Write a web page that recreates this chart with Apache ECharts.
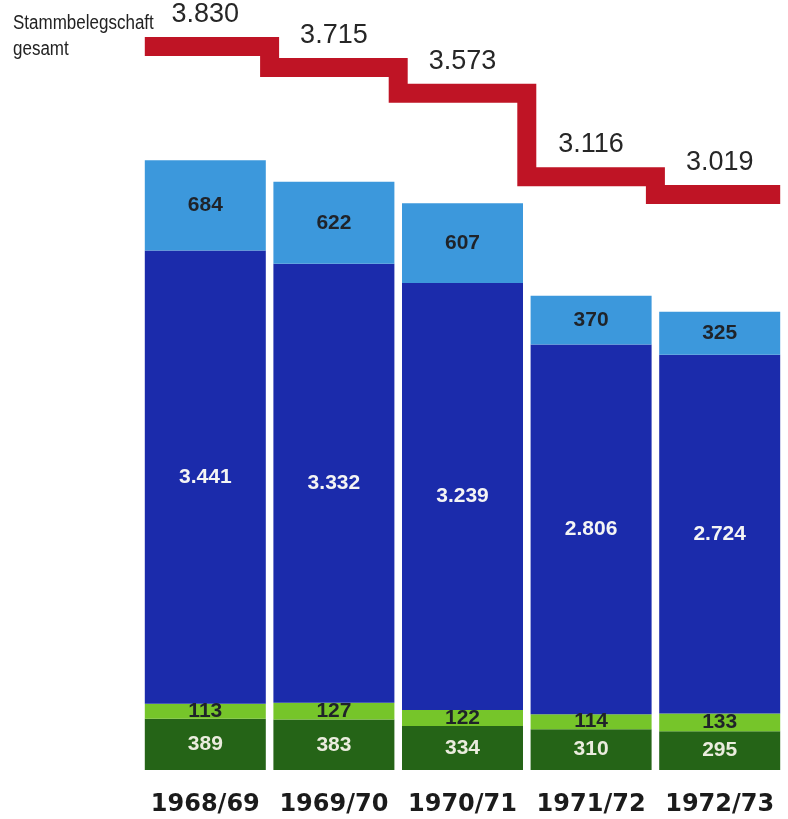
<!DOCTYPE html>
<html>
<head>
<meta charset="utf-8">
<script src="https://cdn.jsdelivr.net/npm/echarts@6/dist/echarts.min.js"></script>
<style>
  html, body { margin: 0; padding: 0; background: #ffffff; }
  #chart { width: 788px; height: 819px; }
</style>
</head>
<body>
<div id="chart"></div>
<script>
// Geschäftsjahre
const years = ['1968/69', '1969/70', '1970/71', '1971/72', '1972/73'];

// Segmente der Säulen (von unten nach oben)
const darkGreen  = [389, 383, 334, 310, 295];
const lightGreen = [113, 127, 122, 114, 133];
const blue       = [3441, 3332, 3239, 2806, 2724];
const lightBlue  = [684, 622, 607, 370, 325];

// Stammbelegschaft gesamt (rote Treppenlinie)
const totals = [3830, 3715, 3573, 3116, 3019];

const headline = ['Stammbelegschaft', 'gesamt'];

// deutsche Tausendertrennung: 3830 -> "3.830"
function fmt(v) {
  if (v < 1000) return String(v);
  return Math.floor(v / 1000) + '.' + String(v % 1000).padStart(3, '0');
}

const BAR_W = 121;
const RED = '#bf1425';

function segment(name, values, color, textColor) {
  return {
    name: name,
    type: 'bar',
    stack: 'belegschaft',
    barWidth: BAR_W,
    data: values,
    itemStyle: { color: color },
    label: {
      show: true,
      position: 'inside',
      formatter: p => fmt(p.value),
      color: textColor,
      fontFamily: 'Liberation Sans, Arial, sans-serif',
      fontWeight: 'bold',
      fontSize: 21
    },
    emphasis: { disabled: true }
  };
}

const chart = echarts.init(document.getElementById('chart'), null, { renderer: 'canvas' });

chart.setOption({
  backgroundColor: '#ffffff',
  animation: false,
  grid: { left: 141, right: 4, top: 40, bottom: 49 },
  xAxis: {
    type: 'category',
    data: years,
    axisLine: { show: false },
    axisTick: { show: false },
    axisLabel: {
      interval: 0,
      margin: 23,
      color: '#1b1b1b',
      fontFamily: 'DejaVu Sans, sans-serif',
      fontWeight: 'bold',
      fontSize: 24
    }
  },
  yAxis: [
    { type: 'value', min: 0, max: 5540, show: false, splitLine: { show: false } },
    { type: 'value', min: -130, max: 3865, show: false, splitLine: { show: false } }
  ],
  graphic: [{
    type: 'text',
    left: 13,
    top: 10,
    scaleX: 0.85,
    style: {
      text: headline.join('\n'),
      fill: '#222222',
      font: '20px "Liberation Sans", Arial, sans-serif',
      lineHeight: 26
    }
  }],
  series: [
    segment('dunkelgrün', darkGreen, '#256417', '#ebecde'),
    segment('hellgrün', lightGreen, '#76c52a', '#1f2329'),
    segment('blau', blue, '#1b2bab', '#f4f4f4'),
    segment('hellblau', lightBlue, '#3c98dc', '#1f2329'),
    {
      name: 'Stammbelegschaft gesamt',
      type: 'custom',
      xAxisIndex: 0,
      yAxisIndex: 1,
      z: 5,
      data: totals.map((v, i) => [i, v]),
      renderItem: function (params, api) {
        const i = params.dataIndex;
        const band = api.size([1, 0])[0];
        const p = api.coord([i, api.value(1)]);
        const children = [];
        if (i === 0) {
          // durchgehende Treppenlinie über alle Jahre
          const pts = [];
          const n = totals.length;
          for (let j = 0; j < n; j++) {
            const c = api.coord([j, totals[j]]);
            const l = j === 0 ? c[0] - BAR_W / 2 : c[0] - band / 2;
            const r = j === n - 1 ? c[0] + BAR_W / 2 : c[0] + band / 2;
            pts.push([l, c[1]], [r, c[1]]);
          }
          children.push({
            type: 'polyline',
            shape: { points: pts },
            style: { stroke: RED, lineWidth: 19, fill: null, lineJoin: 'miter', lineCap: 'butt' }
          });
        }
        children.push({
          type: 'text',
          x: p[0],
          y: p[1] - 32,
          style: {
            text: fmt(api.value(1)),
            fill: '#262626',
            font: '27px "Liberation Sans", Arial, sans-serif',
            align: 'center',
            verticalAlign: 'middle'
          }
        });
        return { type: 'group', children: children };
      }
    }
  ]
});
</script>
</body>
</html>
